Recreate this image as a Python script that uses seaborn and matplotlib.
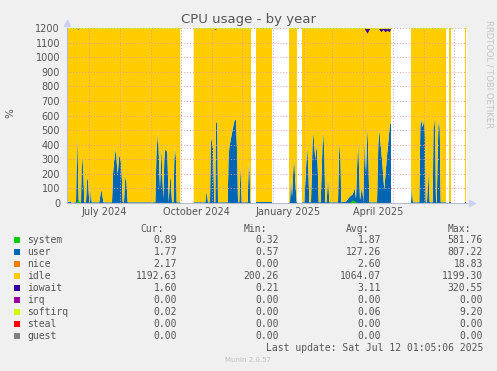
import matplotlib
matplotlib.use("Agg")
import matplotlib.pyplot as plt
from matplotlib.patches import Rectangle
import numpy as np
import pandas as pd
import seaborn as sns

NAN = np.nan
START = pd.Timestamp("2024-06-09")
CAPACITY = 1200
W, H = 497, 371

# user (% summed over 12 cpus), day offsets from START; NaN = no data
user_day = [
    0, 1.7, 3.7, 4.7,
    9, 9.6, 10.3, 11, 11.7, 14, 14.6, 15.3, 16.3, 17.3, 19, 20, 20.7, 21.5, 22.3,
    23, 23.7, 24.7, 32.3, 33.5, 34.3, 35.3, 36.3,
    45, 46, 47.3, 49, 50, 50.7, 52.3, 54, 55, 55.7, 57, 58, 59, 60.7,
    88.3, 89.5, 91, 92, 93, 94.3, 95.3, 96.3, 97.3, 98.3, 100.3, 101.7, 102.8, 103.7, 105,
    106.5, 107.3, 108, 109, 109.7, 113.3, 114,
    126.7, 138.3, 139.7, 141, 143, 143.8, 144.3, 145.2, 146, 147.3, 148.3, 148.8, 149.3,
    150.3, 151, 160.7, 161.5, 162.3, 165, 167.3, 169, 170.3, 171, 172.3, 173.3, 174.7,
    180.7, 181.5, 182, 182.7, 183.3, 184, 185,
    189, 205, 206,
    222, 223, 224, 225, 226.5, 227.3, 228.3, 229.7, 230, 231,
    235, 237.3, 239.5, 240.3, 241.3, 242.3, 244, 245.5, 246.3, 248.3, 249.7, 250.7, 251.7,
    253.7, 255.5, 256.3, 257.3, 258.3, 259.7, 261, 262.3, 271, 272, 272.7, 273.5, 274.3,
    279, 282.3, 285.7, 287.7, 289, 290.5, 291.3, 292.2, 293, 295, 296.3, 297.7, 299,
    300.3, 301.3, 302.3, 310, 311.3, 312.3, 315, 317.3, 319.7, 323, 324, 325,
    344, 344.7, 346, 352.3, 353.3, 354, 355.7, 357.3, 358, 358.7, 360, 361.3, 362.7,
    365.7, 366.5, 367.3, 368.2, 369, 369.7, 371.3, 372, 372.8, 373.7, 379, 380,
    382, 384, 385,
    397.5, 398.5,
]
user_val = [
    5, 10, 10, 2,
    5, 250, 455, 250, 5, 5, 250, 320, 220, 5, 5, 150, 180, 100, 5,
    5, 100, 5, 5, 60, 90, 60, 5,
    5, 200, 300, 380, 250, 200, 330, 280, 150, 5, 5, 150, 190, 5,
    5, 350, 490, 300, 100, 385, 200, 30, 300, 370, 350, 5, 150, 180, 5,
    5, 300, 385, 300, 5, 5, NAN,
    5, 5, 80, 5, 5, 400, 455, 400, 380, 5, 5, 540, 560,
    540, 5, 5, 300, 380, 480, 560, 575, 300, 5, 5, 260, 5,
    5, 220, 290, 200, 5, 5, NAN,
    5, 5, NAN,
    5, 5, 180, 40, 250, 295, 150, 5, 5, NAN,
    5, 5, 300, 385, 250, 5, 5, 400, 490, 300, 400, 250, 5,
    5, 400, 490, 350, 5, 5, 190, 5, 5, 330, 410, 300, 5,
    10, 40, 60, 100, 30, 330, 410, 200, 20, 110, 20, 430, 200,
    525, 350, 5, 5, 400, 500, 300, 90, 300, 545, 545, NAN,
    5, 110, 5, 5, 520, 580, 520, 580, 450, 5, 5, 215, 5,
    5, 520, 580, 500, 5, 5, 520, 580, 500, 5, 5, NAN,
    5, 5, NAN,
    5, 5,
]

# system shows only as a thin green sliver at the bottom
system_day = [9, 11, 13, 282, 285, 288, 291]
system_val = [0, 25, 0, 0, 22, 12, 0]

# iowait dips from the top edge
iowait_day = [9.5, 11, 12.5, 146, 148, 150, 297, 300, 303, 311, 314, 316, 318, 320, 322, 324]
iowait_val = [0, 8, 0, 0, 8, 0, 0, 35, 0, 0, 25, 10, 25, 15, 25, 0]

legend_names = ["system", "user", "nice", "idle", "iowait", "irq", "softirq", "steal", "guest"]
legend_colors = ["#00cc00", "#0066b3", "#ff8000", "#ffcc00", "#330099",
                 "#990099", "#ccff00", "#ff0000", "#808080"]
cur_vals = [0.89, 1.77, 2.17, 1192.63, 1.60, 0.00, 0.02, 0.00, 0.00]
min_vals = [0.32, 0.57, 0.00, 200.26, 0.21, 0.00, 0.00, 0.00, 0.00]
avg_vals = [1.87, 127.26, 2.60, 1064.07, 3.11, 0.00, 0.06, 0.00, 0.00]
max_vals = [581.76, 807.22, 18.83, 1199.30, 320.55, 0.00, 9.20, 0.00, 0.00]

month_labels = ["July 2024", "October 2024", "January 2025", "April 2025"]
label_months = ["2024-07-01", "2024-10-01", "2025-01-01", "2025-04-01"]

sns.set_theme(style="white")
plt.rcParams["font.family"] = ["DejaVu Sans"]

TXT = "#555555"
GRID = "#e39a9a"


def fx(px):
    return px / W


def fy(py):
    return 1 - py / H


def to_dates(days):
    return START + pd.to_timedelta(np.asarray(days, dtype=float), unit="D")


fig = plt.figure(figsize=(W / 100, H / 100), dpi=100, facecolor="#f0f0f0")
ax = fig.add_axes([fx(67), fy(203), fx(467) - fx(67), fy(28) - fy(203)])
ax.set_facecolor("white")

u_dates = to_dates(user_day)
u = np.array(user_val, dtype=float)
ax.fill_between(u_dates, 0, u, color=legend_colors[1], lw=0, zorder=1)
ax.fill_between(u_dates, u, CAPACITY, color=legend_colors[3], lw=0, zorder=1)

ax.fill_between(to_dates(system_day), 0, system_val, color=legend_colors[0], lw=0, zorder=1.2)
io = np.array(iowait_val, dtype=float)
ax.fill_between(to_dates(iowait_day), CAPACITY - io, CAPACITY,
                color=legend_colors[4], lw=0, zorder=1.2)

# softirq sliver along the top, one line per data segment
seg = np.cumsum(np.isnan(u))
top_df = pd.DataFrame({"date": u_dates, "top": np.where(np.isnan(u), NAN, CAPACITY - 1),
                       "segment": seg}).dropna()
sns.lineplot(data=top_df, x="date", y="top", units="segment", estimator=None,
             color=legend_colors[6], lw=0.9, ax=ax, zorder=1.3, legend=False)

ax.set_xlim(to_dates([0])[0], to_dates([400])[0])
ax.set_ylim(0, CAPACITY)

month_starts = pd.date_range("2024-07-01", "2025-07-01", freq="MS")
ax.set_xticks(month_starts)
ax.set_xticklabels([])
mids = [pd.Timestamp(m) + pd.Timedelta(days=15.5) for m in label_months]
ax.set_xticks(mids, minor=True)
ax.set_xticklabels(month_labels, minor=True, color=TXT, fontsize=7)
ax.tick_params(axis="x", which="minor", length=0, pad=3)
ax.tick_params(axis="x", which="major", length=2, color=GRID, direction="out")

ax.set_yticks(np.arange(0, 1201, 100))
ax.set_yticklabels([str(v) for v in range(0, 1201, 100)], color=TXT, fontsize=7)
ax.tick_params(axis="y", length=2, color=GRID, pad=3)

ax.grid(True, which="major", color=GRID, linestyle=(0, (1, 2)), lw=0.7)
ax.set_axisbelow(False)
ax.set_xlabel("")
ax.set_ylabel("")

for side in ["top", "right"]:
    ax.spines[side].set_visible(False)
for side in ["left", "bottom"]:
    ax.spines[side].set_color("#b8bcd0")
    ax.spines[side].set_linewidth(0.8)
ax.plot([0], [1.03], marker="^", color="#c8d0f4", ms=4, transform=ax.transAxes, clip_on=False)
ax.plot([1.012], [0], marker=">", color="#c8d0f4", ms=4, transform=ax.transAxes, clip_on=False)

fig.text(fx(249), fy(19), "CPU usage - by year", ha="center", va="center",
         fontsize=9.5, color=TXT)
fig.text(fx(10), fy(113), "%", rotation=90, ha="center", va="center", fontsize=7.5, color=TXT)
fig.text(fx(489), fy(20), "RRDTOOL / TOBI OETIKER", rotation=270, ha="center", va="top",
         fontsize=6, color="#c4c4c4")

mono = "DejaVu Sans Mono"
for x_right, head in zip([164, 267, 369, 471], ["Cur:", "Min:", "Avg:", "Max:"]):
    fig.text(fx(x_right), fy(229), head, ha="right", va="center", family=mono,
             fontsize=7, color=TXT)

for i, name in enumerate(legend_names):
    y = 240 + 12 * i
    fig.patches.append(Rectangle((fx(14), fy(y + 3)), fx(6), fy(y - 3) - fy(y + 3),
                                 transform=fig.transFigure, color=legend_colors[i], lw=0))
    fig.text(fx(27), fy(y), name, ha="left", va="center", family=mono, fontsize=7, color=TXT)
    for x_right, vals in zip([177, 279, 381, 483], [cur_vals, min_vals, avg_vals, max_vals]):
        fig.text(fx(x_right), fy(y), f"{vals[i]:.2f}", ha="right", va="center",
                 family=mono, fontsize=7, color=TXT)

fig.text(fx(483), fy(348), "Last update: Sat Jul 12 01:05:06 2025", ha="right", va="center",
         family=mono, fontsize=7, color=TXT)
fig.text(fx(248), fy(360), "Munin 2.0.57", ha="center", va="center", fontsize=5, color="#c0c0c0")

fig.savefig("out.png", dpi=100, facecolor=fig.get_facecolor())
